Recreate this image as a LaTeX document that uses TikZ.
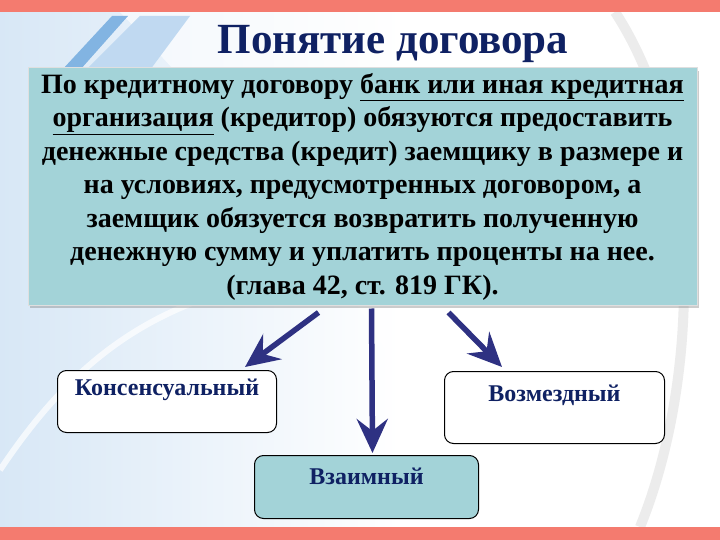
\documentclass[tikz,border=0pt]{standalone}
\usepackage{fontspec}
\setmainfont{Liberation Serif}
\usepackage{xcolor}
\usetikzlibrary{arrows.meta,shadows}
\definecolor{bandred}{HTML}{F47B6F}
\definecolor{boxteal}{HTML}{A3D3D8}
\definecolor{titlenavy}{HTML}{0F2163}
\definecolor{arrownavy}{HTML}{2E3182}
\definecolor{skyblue}{HTML}{4C93D6}

\begin{document}
\begin{tikzpicture}[x=1pt,y=-1pt,
  defbox/.style={fill=boxteal, draw=white!75!gray, line width=1pt, inner sep=0pt,
    minimum width=669pt, minimum height=237pt, drop shadow={shadow xshift=2pt,shadow yshift=-3pt,opacity=0.4}},
  kindbox/.style={draw=black, line width=1pt, rounded corners=9pt, inner sep=0pt,
    text=titlenavy, font=\bfseries\fontsize{24}{28}\selectfont},
  arr/.style={arrownavy, line width=5.5pt, -{Stealth[length=34pt,width=31pt,inset=12pt]}}]
\useasboundingbox (0,0) rectangle (720,540);
\fill[white] (0,0) rectangle (720,540);
\shade[left color=skyblue!22, right color=white] (0,12) rectangle (400,527);
\fill[white, opacity=0.6] (120,12) .. controls (300,200) and (420,380) .. (470,527) -- (720,527) -- (720,12) -- cycle;
\fill[skyblue!70] (62,70) -- (112,16) -- (128,16) -- (80,70) -- cycle;
\fill[skyblue!35] (86,70) -- (140,16) -- (190,16) -- (150,70) -- cycle;
\draw[gray!15, line width=10pt] (615,12) .. controls (705,150) and (700,380) .. (640,527);
\draw[white, line width=6pt, opacity=0.7] (0,470) .. controls (60,380) and (120,330) .. (200,300);
\fill[bandred] (0,0) rectangle (720,12);
\fill[bandred] (0,527) rectangle (720,540);

\node[text=titlenavy, font=\bfseries\fontsize{43}{48}\selectfont] (title) at (393,44) {Понятие договора};

\node[defbox] (def) at (362.5,186.5) {};
\node[align=center, font=\bfseries\fontsize{28}{33.5}\selectfont] (deftext) at (def.center)
  {По кредитному договору \underline{банк или иная кредитная}\\
   \underline{организация} (кредитор) обязуются предоставить\\
   денежные средства (кредит) заемщику в размере и\\
   на условиях, предусмотренных договором, а\\
   заемщик обязуется возвратить полученную\\
   денежную сумму и уплатить проценты на нее.\\
   (глава 42, ст. 819 ГК).};

\node[kindbox, fill=white, minimum width=219pt, text height=25pt, text depth=37pt, anchor=north west] (kons) at (57,370) {Консенсуальный};
\node[kindbox, fill=white, minimum width=220pt, text height=30pt, text depth=42pt, anchor=north west] (vozm) at (444,371) {Возмездный};
\node[kindbox, fill=boxteal, minimum width=224pt, text height=29pt, text depth=34pt, anchor=north west] (vzaim) at (254,455) {Взаимный};

\draw[arr] ([xshift=-44pt,yshift=-7pt]def.south) -- ([xshift=-32pt,yshift=3pt]kons.north east);
\draw[arr] ([xshift=9pt,yshift=-3pt]def.south) -- ([xshift=6pt,yshift=2pt]vzaim.north);
\draw[arr] ([xshift=86pt,yshift=-7pt]def.south) -- ([xshift=58pt,yshift=4pt]vozm.north west);
\end{tikzpicture}
\end{document}
